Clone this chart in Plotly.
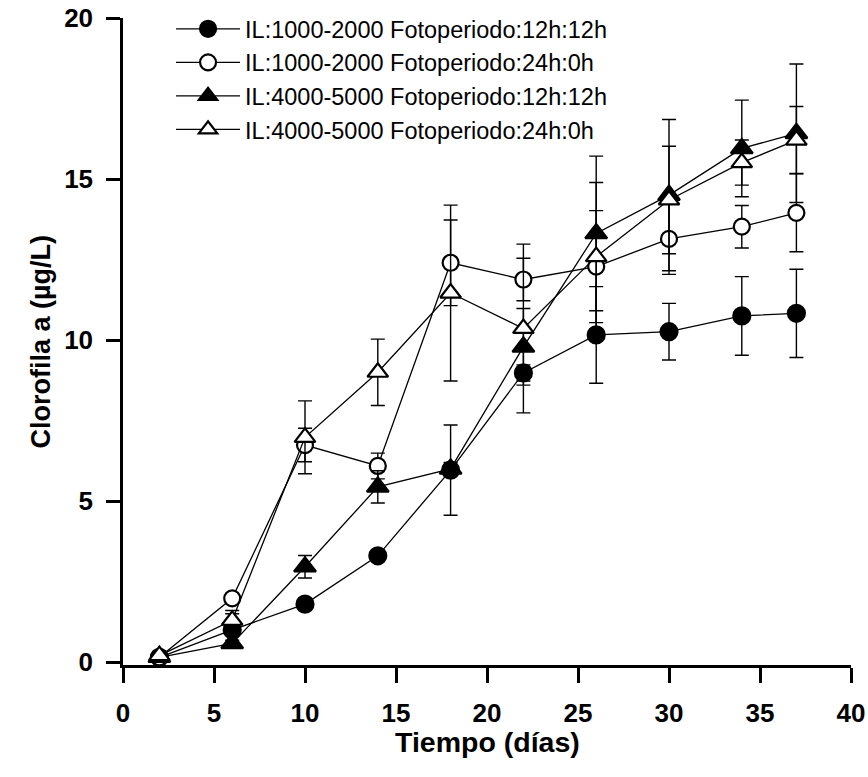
import plotly.graph_objects as go

# ---- data ----
dias = [2, 6, 10, 14, 18, 22, 26, 30, 34, 37]

names = [
    "IL:1000-2000 Fotoperiodo:12h:12h",
    "IL:1000-2000 Fotoperiodo:24h:0h",
    "IL:4000-5000 Fotoperiodo:12h:12h",
    "IL:4000-5000 Fotoperiodo:24h:0h",
]

clor_1000_12 = [0.15, 1.00, 1.80, 3.30, 5.96, 8.98, 10.16, 10.26, 10.75, 10.83]
err_1000_12 = [0.05, 0.50, 0.15, 0.15, 1.40, 0.25, 1.50, 0.88, 1.22, 1.37]

clor_1000_24 = [0.15, 1.98, 6.74, 6.09, 12.40, 11.88, 12.28, 13.14, 13.52, 13.95]
err_1000_24 = [0.05, 0.15, 0.52, 0.40, 1.33, 0.66, 1.74, 1.10, 0.66, 1.21]

clor_4000_12 = [0.15, 0.58, 2.96, 5.44, 6.00, 9.79, 13.31, 14.50, 15.95, 16.42]
err_4000_12 = [0.05, 0.10, 0.35, 0.50, 0.20, 1.19, 2.40, 2.35, 1.50, 2.15]

clor_4000_24 = [0.20, 1.30, 6.98, 9.00, 11.46, 10.36, 12.59, 14.35, 15.51, 16.21]
err_4000_24 = [0.05, 0.30, 1.13, 1.03, 2.73, 2.62, 2.30, 1.67, 0.70, 1.04]

x_ticks = [0, 5, 10, 15, 20, 25, 30, 35, 40]
y_ticks = [0, 5, 10, 15, 20]

series = [
    (clor_1000_12, err_1000_12, "circle", "black", 17),
    (clor_1000_24, err_1000_24, "circle", "white", 16),
    (clor_4000_12, err_4000_12, "triangle-up", "black", 19),
    (clor_4000_24, err_4000_24, "triangle-up", "white", 18),
]

fig = go.Figure()
for (vals, errs, sym, fill, sz), nm in zip(series, names):
    fig.add_trace(go.Scatter(
        x=dias, y=vals, name=nm, mode="lines+markers",
        line=dict(color="black", width=1.3),
        marker=dict(symbol=sym, size=sz, color=fill,
                    line=dict(color="black", width=2.2)),
        error_y=dict(type="data", array=errs, visible=True,
                     color="black", thickness=1.4, width=7),
    ))

fig.update_layout(
    width=868, height=777,
    plot_bgcolor="white", paper_bgcolor="white",
    margin=dict(l=123, r=17, t=18, b=112, autoexpand=False),
    font=dict(family="Liberation Sans", color="black"),
    showlegend=True,
    legend=dict(
        x=0.066, y=1.017, xanchor="left", yanchor="top",
        bgcolor="rgba(0,0,0,0)", borderwidth=0,
        font=dict(family="Liberation Sans", size=23.5, color="black"),
        itemwidth=64, tracegroupgap=0,
    ),
    xaxis=dict(
        range=[0, 40], tickvals=x_ticks, ticktext=[str(v) for v in x_ticks],
        showgrid=False, zeroline=False, automargin=False,
        showline=True, linecolor="black", linewidth=2.5,
        ticks="outside", ticklen=15, tickwidth=2.5, tickcolor="black",
        tickfont=dict(family="Liberation Sans", size=26, color="black", weight="bold"),
        ticklabelstandoff=8, ticklabeloverflow="allow",
    ),
    yaxis=dict(
        range=[-0.09, 20], tickvals=y_ticks, ticktext=[str(v) for v in y_ticks],
        showgrid=False, zeroline=False, automargin=False,
        showline=True, linecolor="black", linewidth=2.5,
        ticks="outside", ticklen=14, tickwidth=2.5, tickcolor="black",
        tickfont=dict(family="Liberation Sans", size=26, color="black", weight="bold"),
        ticklabelstandoff=8, ticklabeloverflow="allow",
    ),
    annotations=[
        dict(text="<b>Tiempo (días)</b>", xref="paper", yref="paper",
             x=0.5, y=0, yshift=-77, xanchor="center", yanchor="middle",
             showarrow=False, font=dict(family="Liberation Sans", size=28.5, color="black")),
        dict(text="<b>Clorofila a (µg/L)</b>", xref="paper", yref="paper",
             x=0, xshift=-83, y=0.5, xanchor="center", yanchor="middle", textangle=-90,
             showarrow=False, font=dict(family="Liberation Sans", size=27, color="black")),
    ],
)

fig.write_html(
    "out.html",
    config={"displayModeBar": False},
    post_script="document.body.style.margin='0';document.body.style.overflow='hidden';",
)
